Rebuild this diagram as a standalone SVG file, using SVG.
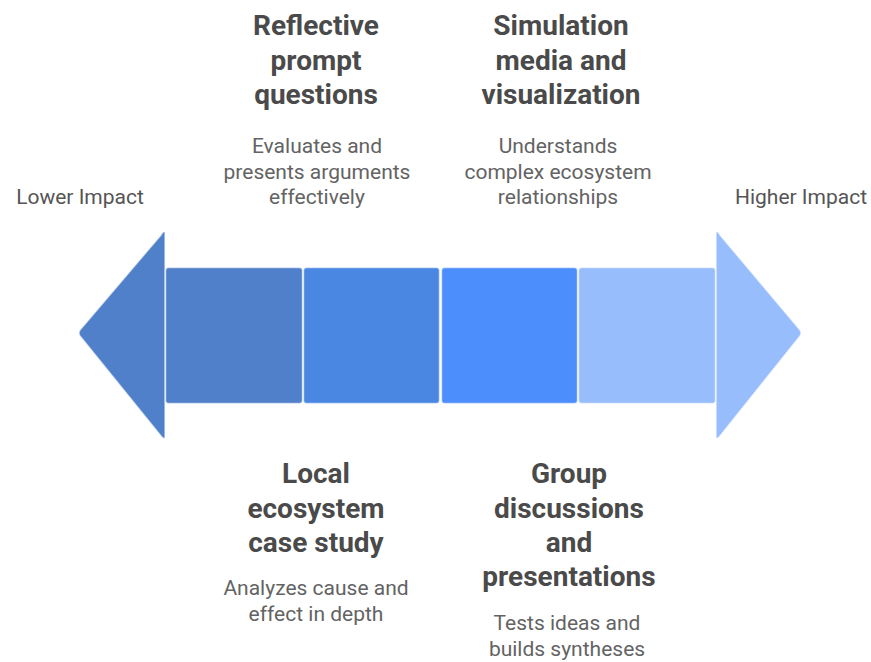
<svg xmlns="http://www.w3.org/2000/svg" width="871" height="662" viewBox="0 0 871 662">
  <style>
    .title { font-family: Roboto, "Liberation Sans", sans-serif; font-weight: 700; font-size: 28px; fill: #4a4a4a; text-anchor: middle; }
    .desc { font-family: Roboto, "Liberation Sans", sans-serif; font-size: 21px; fill: #636363; text-anchor: middle; }
    .end { font-family: Roboto, "Liberation Sans", sans-serif; font-size: 21px; fill: #555555; text-anchor: middle; }
    .seg { stroke: #ffffff; stroke-opacity: 0.6; stroke-width: 1.5; }
  </style>
  <rect width="871" height="662" fill="#ffffff"/>

  <g id="arrow">
    <path class="seg" d="M165,232 L165,438 Q163,439 161,436 L80,336 Q78,333 80,330 L161,235 Q163,231 165,232 Z" fill="#4f80c9"/>
    <path class="seg" d="M716,232 L716,438 Q718,439 720,436 L800,336 Q802,333 800,330 L720,235 Q718,231 716,232 Z" fill="#98bdfd"/>
    <rect class="seg" x="165.5" y="267.5" width="137" height="136" rx="3" fill="#4f80c9"/>
    <rect class="seg" x="303.5" y="267.5" width="136" height="136" rx="3" fill="#4a87e3"/>
    <rect class="seg" x="441.5" y="267.5" width="136" height="136" rx="3" fill="#4b8efc"/>
    <rect class="seg" x="578.5" y="267.5" width="137" height="136" rx="3" fill="#98bdfd"/>
  </g>

  <g id="lower-impact">
    <text class="end" x="80" y="204">Lower Impact</text>
  </g>
  <g id="higher-impact">
    <text class="end" x="801" y="204">Higher Impact</text>
  </g>

  <g id="reflective-prompt-questions">
    <text class="title" x="316" y="35">Reflective</text>
    <text class="title" x="316" y="69.5">prompt</text>
    <text class="title" x="316" y="104">questions</text>
    <text class="desc" x="317" y="153">Evaluates and</text>
    <text class="desc" x="317" y="178.5">presents arguments</text>
    <text class="desc" x="317" y="204">effectively</text>
  </g>

  <g id="simulation-media">
    <text class="title" x="561" y="35">Simulation</text>
    <text class="title" x="561" y="69.5">media and</text>
    <text class="title" x="561" y="104">visualization</text>
    <text class="desc" x="558" y="153">Understands</text>
    <text class="desc" x="558" y="178.5">complex ecosystem</text>
    <text class="desc" x="558" y="204">relationships</text>
  </g>

  <g id="local-ecosystem-case-study">
    <text class="title" x="316" y="483">Local</text>
    <text class="title" x="316" y="517.5">ecosystem</text>
    <text class="title" x="316" y="552">case study</text>
    <text class="desc" x="316" y="595">Analyzes cause and</text>
    <text class="desc" x="316" y="620.5">effect in depth</text>
  </g>

  <g id="group-discussions">
    <text class="title" x="569" y="483">Group</text>
    <text class="title" x="569" y="517.5">discussions</text>
    <text class="title" x="569" y="552">and</text>
    <text class="title" x="569" y="586">presentations</text>
    <text class="desc" x="567" y="630">Tests ideas and</text>
    <text class="desc" x="567" y="655.5">builds syntheses</text>
  </g>
</svg>
